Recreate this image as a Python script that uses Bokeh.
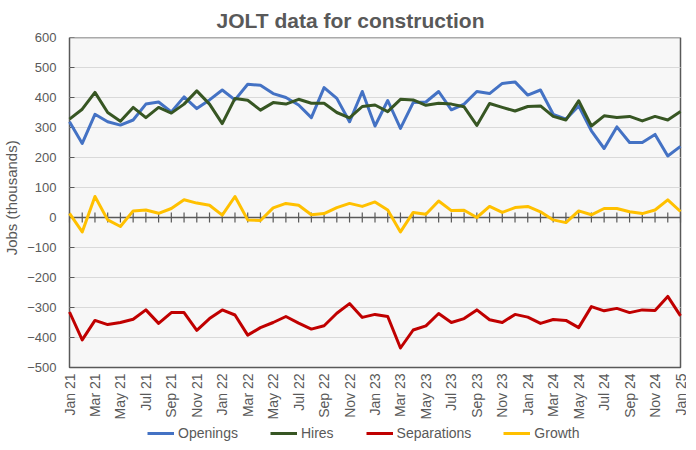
import math
from bokeh.plotting import figure
from bokeh.models import Legend, LegendItem, Title, ColumnDataSource, FixedTicker
from bokeh.core.properties import value
from bokeh.embed import file_html
from bokeh.resources import INLINE

months = ["Jan 21", "Feb 21", "Mar 21", "Apr 21", "May 21", "Jun 21", "Jul 21", "Aug 21", "Sep 21", "Oct 21", "Nov 21", "Dec 21",
          "Jan 22", "Feb 22", "Mar 22", "Apr 22", "May 22", "Jun 22", "Jul 22", "Aug 22", "Sep 22", "Oct 22", "Nov 22", "Dec 22",
          "Jan 23", "Feb 23", "Mar 23", "Apr 23", "May 23", "Jun 23", "Jul 23", "Aug 23", "Sep 23", "Oct 23", "Nov 23", "Dec 23",
          "Jan 24", "Feb 24", "Mar 24", "Apr 24", "May 24", "Jun 24", "Jul 24", "Aug 24", "Sep 24", "Oct 24", "Nov 24", "Dec 24",
          "Jan 25"]

openings = [319, 247, 344, 319, 308, 325, 378, 385, 352, 402, 363, 392,
            425, 392, 444, 441, 413, 400, 375, 333, 433, 397, 319, 420,
            305, 390, 297, 383, 385, 420, 359, 378, 420, 413, 447, 452,
            408, 425, 344, 328, 372, 289, 230, 302, 250, 250, 277, 205,
            237]
hires = [328, 361, 417, 350, 321, 367, 333, 367, 348, 378, 422, 378,
         313, 397, 391, 358, 383, 378, 394, 381, 381, 350, 332, 370,
         375, 353, 394, 392, 374, 381, 378, 369, 307, 380, 367, 355,
         370, 372, 337, 325, 389, 305, 339, 333, 337, 322, 337, 325,
         353]
separations = [-315, -408, -343, -357, -350, -339, -308, -353, -317, -317, -376, -337,
               -308, -325, -392, -367, -350, -330, -352, -372, -361, -319, -287, -333,
               -323, -330, -435, -375, -361, -320, -350, -337, -308, -341, -350, -323,
               -332, -353, -340, -343, -367, -297, -311, -303, -317, -308, -310, -263,
               -328]
growth = [14, -48, 70, -8, -30, 22, 25, 14, 30, 59, 48, 41,
          8, 70, -8, -10, 32, 47, 41, 9, 13, 33, 47, 37,
          52, 25, -48, 17, 11, 55, 23, 24, 0, 37, 17, 33,
          37, 19, -8, -17, 22, 9, 30, 30, 19, 13, 25, 59,
          20]
y_ticks = [-500, -400, -300, -200, -100, 0, 100, 200, 300, 400, 500, 600]

series_names = ["Openings", "Hires", "Separations", "Growth"]
series_colors = ["#4472C4", "#375623", "#C00000", "#FFC000"]

TXT = "#595959"
FONT = "Liberation Sans"

idx = list(range(len(months)))

# screen geometry (pixels)
PLOT_W, PLOT_H = 611, 330       # plot-area box
BORDER_L = 55                   # y-axis panel width
LEFT_PAD, RIGHT_PAD = 8, 6      # frame space left/right of the box
FRAME_H = 404                   # frame reaches down to the legend row
px = PLOT_W / (idx[-1] - idx[0])                   # pixels per month
unit = (y_ticks[-1] - y_ticks[0]) / PLOT_H         # data units per pixel

x_start = idx[0] - LEFT_PAD / px
x_end = idx[-1] + RIGHT_PAD / px
y_top = y_ticks[-1]
y_bottom = y_top - FRAME_H * unit

src = ColumnDataSource(dict(x=idx, openings=openings, hires=hires,
                            separations=separations, growth=growth,
                            zero=[0] * len(idx)))

p = figure(frame_width=LEFT_PAD + PLOT_W + RIGHT_PAD, frame_height=FRAME_H,
           output_backend="svg", toolbar_location=None,
           x_range=(x_start, x_end), y_range=(y_bottom, y_top),
           x_axis_location=None,
           min_border_left=BORDER_L, min_border_right=0, min_border_top=0, min_border_bottom=0)

p.title = Title(text="JOLT data for construction", align="left",
                text_font=FONT, text_font_size="21px", text_font_style="bold",
                text_color=TXT, standoff=12, offset=155)

p.background_fill_color = "white"
p.border_fill_color = "white"
p.outline_line_color = None
p.grid.visible = False

# y axis (labels only; ticks drawn inside the box)
p.yaxis.ticker = FixedTicker(ticks=y_ticks)
p.yaxis.axis_line_color = None
p.yaxis.major_tick_in = 0
p.yaxis.major_tick_out = 0
p.yaxis.major_tick_line_color = None
p.yaxis.minor_tick_line_color = None
p.yaxis.minor_tick_in = 0
p.yaxis.minor_tick_out = 0
p.yaxis.major_label_text_font = FONT
p.yaxis.major_label_text_font_size = "13px"
p.yaxis.major_label_text_color = TXT
p.yaxis.major_label_standoff = 5
p.yaxis.axis_label = "\u00a0" * 20 + "Jobs (thousands)"
p.yaxis.axis_label_text_font = FONT
p.yaxis.axis_label_text_font_size = "15px"
p.yaxis.axis_label_text_font_style = "normal"
p.yaxis.axis_label_text_color = TXT
p.yaxis.axis_label_standoff = 4

# plot-area box
p.quad(left=[idx[0]], right=[idx[-1]], bottom=[y_ticks[0]], top=[y_ticks[-1]],
       fill_color="#F7F7F7", line_color=TXT, line_width=1.5)

# horizontal gridlines
grid_vals = [t for t in y_ticks if t not in (0, y_ticks[0], y_ticks[-1])]
p.segment(x0=[idx[0]] * len(grid_vals), x1=[idx[-1]] * len(grid_vals),
          y0=grid_vals, y1=grid_vals, line_color="#D9D9D9", line_width=1)

# y-axis tick marks (inside the box)
p.segment(x0=[idx[0]] * len(y_ticks), x1=[idx[0] + 5 / px] * len(y_ticks),
          y0=y_ticks, y1=y_ticks, line_color=TXT, line_width=1)

# zero axis line with month tick marks
p.segment(x0=[idx[0]], x1=[idx[-1]], y0=[0], y1=[0], line_color=TXT, line_width=1.5)
p.scatter(x="x", y="zero", source=src, marker="dash", angle=math.pi / 2,
          size=10, line_color=TXT, line_width=1.2)

# month labels under the box
lab_x = idx[::2]
lab_t = months[::2]
p.text(x=lab_x, y=[y_ticks[0] - 6 * unit] * len(lab_x), text=lab_t,
       angle=math.pi / 2, text_align="right", text_baseline="middle", text_color=TXT,
       text_font=value(FONT), text_font_size=value("14px"))

renderers = []
for name, col, color in zip(series_names, ["openings", "hires", "separations", "growth"], series_colors):
    r = p.line(x="x", y=col, source=src, line_color=color, line_width=3, line_join="round")
    renderers.append((name, r))

legend = Legend(items=[LegendItem(label=n, renderers=[r]) for n, r in renderers],
                orientation="horizontal", location=(86, 0),
                label_text_font=FONT, label_text_font_size="14px", label_text_color=TXT,
                glyph_width=27, glyph_height=16, label_height=16, label_standoff=4, spacing=32,
                padding=0, margin=0, border_line_color=None, background_fill_alpha=0)
p.add_layout(legend)

open("out.html", "w").write(file_html(p, INLINE))
